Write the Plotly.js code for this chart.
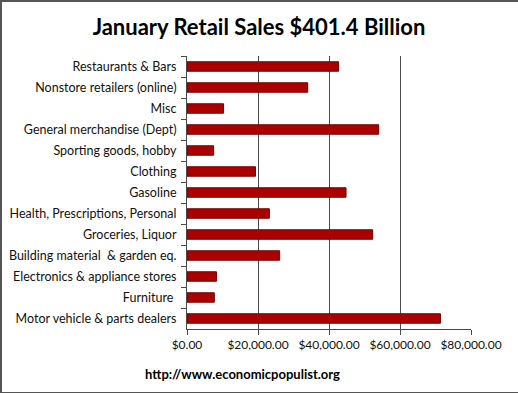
<!DOCTYPE html>
<html>
<head>
<meta charset="utf-8">
<script src="https://cdn.plot.ly/plotly-3.0.1.min.js"></script>
<style>
html,body{margin:0;padding:0;background:#fff;}
#frame{position:absolute;left:0;top:0;width:516px;height:390px;border:1px solid #555;border-top-width:2px;border-left-width:2px;}
#chart{position:absolute;left:0;top:0;width:518px;height:393px;}
</style>
</head>
<body>
<div id="chart"></div>
<div id="frame"></div>
<script>
const categories = [
  "Restaurants & Bars",
  "Nonstore retailers (online)",
  "Misc",
  "General merchandise (Dept)",
  "Sporting goods, hobby",
  "Clothing",
  "Gasoline",
  "Health, Prescriptions, Personal",
  "Groceries, Liquor",
  "Building material  & garden eq.",
  "Electronics & appliance stores",
  "Furniture ",
  "Motor vehicle & parts dealers"
];
const sales = [42700, 34000, 10300, 54000, 7500, 19300, 44800, 23200, 52300, 26100, 8300, 7700, 71400];
const tickVals = [0, 20000, 40000, 60000, 80000];
const tickText = ["$0.00", "$20,000.00", "$40,000.00", "$60,000.00", "$80,000.00"];

const FONT = "Lato, 'Open Sans', sans-serif";

Plotly.newPlot("chart", [{
  type: "bar",
  orientation: "h",
  y: categories,
  x: sales,
  width: 0.45,
  marker: {color: "#ab0000", line: {color: "#760000", width: 1}},
  hoverinfo: "x+y"
}], {
  width: 518, height: 393,
  margin: {l: 187, r: 47, t: 56, b: 64},
  paper_bgcolor: "#fff", plot_bgcolor: "#fff",
  showlegend: false,
  title: {text: "<b>January Retail Sales $401.4 Billion</b>", x: 0.5, xanchor: "center", y: 0.93, yanchor: "middle",
          font: {family: FONT, size: 22, color: "#000"}},
  xaxis: {
    range: [0, 80000], tickvals: tickVals, ticktext: tickText,
    showgrid: true, gridcolor: "#4a4a4a", gridwidth: 1,
    showline: true, linecolor: "#4a4a4a", linewidth: 1,
    ticks: "outside", ticklen: 5, tickcolor: "#4a4a4a",
    zeroline: false,
    tickfont: {family: FONT, size: 12, color: "#111"}
  },
  yaxis: {
    autorange: "reversed", type: "category",
    showline: true, linecolor: "#4a4a4a", linewidth: 1,
    ticks: "outside", tickson: "boundaries", ticklen: 5, tickcolor: "#4a4a4a",
    ticklabelstandoff: 7,
    showgrid: false,
    tickfont: {family: FONT, size: 12.5, color: "#111"}
  },
  annotations: [{
    text: "<b>http://www.economicpopulist.org</b>", xref: "paper", yref: "paper",
    x: 0.194, y: -0.13, xanchor: "center", yanchor: "top", showarrow: false,
    font: {family: FONT, size: 13, color: "#000"}
  }]
}, {displayModeBar: false, staticPlot: true});
</script>
</body>
</html>
